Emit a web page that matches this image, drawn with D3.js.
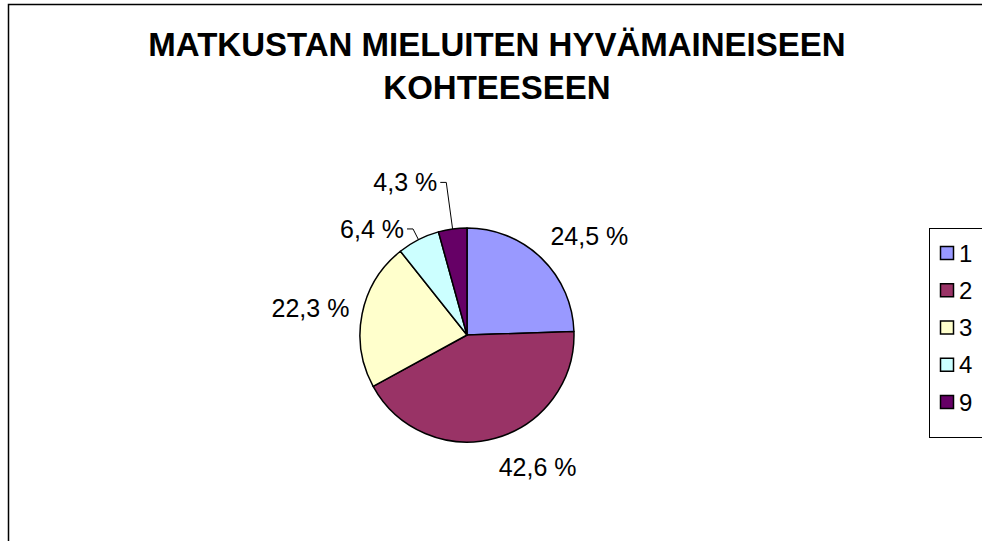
<!DOCTYPE html>
<html>
<head>
<meta charset="utf-8">
<script src="https://cdnjs.cloudflare.com/ajax/libs/d3/7.8.5/d3.min.js"></script>
<style>
  body { margin: 0; background: #fff; }
  text { font-family: "Liberation Sans", Arial, sans-serif; }
</style>
</head>
<body>
<div id="chart"></div>
<script>
// data
var categories = ["1", "2", "3", "4", "9"];
var shares = [24.5, 42.6, 22.3, 6.4, 4.3];
var shareLabels = ["24,5 %", "42,6 %", "22,3 %", "6,4 %", "4,3 %"];
var titleLines = ["MATKUSTAN MIELUITEN HYVÄMAINEISEEN", "KOHTEESEEN"];

var colors = ["#9999ff", "#993366", "#ffffcc", "#ccffff", "#660066"];

var W = 982, H = 541;
var cx = 467, cy = 335, R = 107;

// how far out each label sits beyond the rim, and which ones get a leader line
var labelGap = { "1": 13, "2": 13, "3": 13, "4": 12, "9": 47 };
var leaders = { "4": true, "9": true };

var svg = d3.select("#chart").append("svg")
    .attr("width", W).attr("height", H);

svg.append("rect")
    .attr("x", 8.5).attr("y", 4.5)
    .attr("width", W + 10).attr("height", H + 10)
    .attr("fill", "#fff").attr("stroke", "#000").attr("stroke-width", 1.5);

svg.append("g").selectAll("text")
    .data(titleLines)
    .enter().append("text")
    .attr("x", 497)
    .attr("y", function (d, i) { return 56 + i * 43; })
    .attr("text-anchor", "middle")
    .attr("font-size", 33)
    .attr("font-weight", "bold")
    .text(function (d) { return d; });

var rows = categories.map(function (c, i) {
  return { cat: c, value: shares[i], label: shareLabels[i], color: colors[i] };
});

var pie = d3.pie().sort(null).value(function (d) { return d.value; });
var arcs = pie(rows);
var arc = d3.arc().innerRadius(0).outerRadius(R);

var g = svg.append("g").attr("transform", "translate(" + cx + "," + cy + ")");

g.selectAll("path")
    .data(arcs)
    .enter().append("path")
    .attr("d", arc)
    .attr("fill", function (d) { return d.data.color; })
    .attr("stroke", "#000")
    .attr("stroke-width", 1.5)
    .attr("stroke-linejoin", "round");

function polar(a, r) { return [Math.sin(a) * r, -Math.cos(a) * r]; }

var lab = g.append("g");
arcs.forEach(function (d) {
  var mid = (d.startAngle + d.endAngle) / 2;
  var ux = Math.sin(mid), uy = -Math.cos(mid);
  var p = polar(mid, R + labelGap[d.data.cat]);
  var right = ux > 0;
  if (leaders[d.data.cat]) {
    var e = polar(mid, R);
    var hx = p[0] + (right ? 6 : -6);
    lab.append("path")
        .attr("d", "M" + e[0] + "," + e[1] + "L" + p[0] + "," + p[1] + "L" + hx + "," + p[1])
        .attr("fill", "none").attr("stroke", "#000").attr("stroke-width", 1);
    lab.append("text")
        .attr("x", hx + (right ? 3 : -3))
        .attr("y", p[1])
        .attr("dy", "0.35em")
        .attr("text-anchor", right ? "start" : "end")
        .attr("font-size", 25)
        .text(d.data.label);
  } else {
    lab.append("text")
        .attr("x", p[0])
        .attr("y", p[1] + uy * 17)
        .attr("dy", "0.35em")
        .attr("text-anchor", right ? "start" : "end")
        .attr("font-size", 25)
        .text(d.data.label);
  }
});

// legend
var legend = svg.append("g");
legend.append("rect")
    .attr("x", 929.5).attr("y", 228.5)
    .attr("width", 80).attr("height", 209)
    .attr("fill", "#fff").attr("stroke", "#000").attr("stroke-width", 1);

var ly = d3.scalePoint().domain(categories).range([253, 402]);

var items = legend.selectAll("g.item")
    .data(rows)
    .enter().append("g")
    .attr("class", "item")
    .attr("transform", function (d) { return "translate(0," + ly(d.cat) + ")"; });

items.append("rect")
    .attr("x", 940.5).attr("y", -6.5)
    .attr("width", 13).attr("height", 13)
    .attr("fill", function (d) { return d.color; })
    .attr("stroke", "#000").attr("stroke-width", 1.5);

items.append("text")
    .attr("x", 959).attr("dy", "0.36em")
    .attr("font-size", 24)
    .text(function (d) { return d.cat; });
</script>
</body>
</html>
